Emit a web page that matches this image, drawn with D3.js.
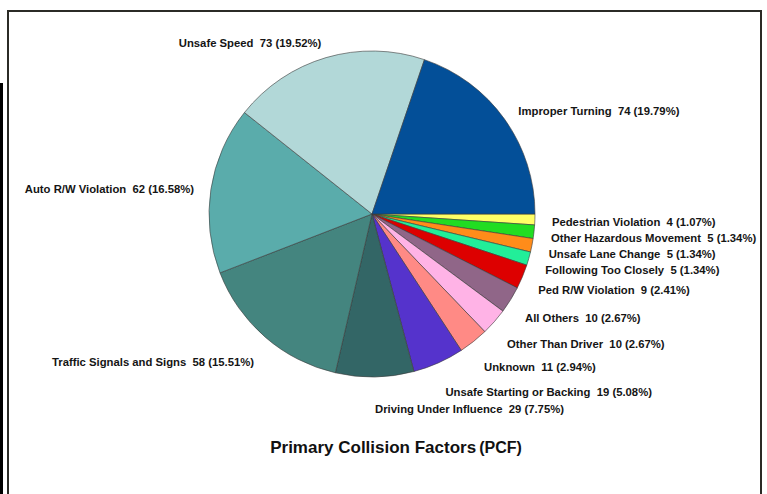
<!DOCTYPE html>
<html>
<head>
<meta charset="utf-8">
<script src="https://cdn.jsdelivr.net/npm/d3@7"></script>
<style>
  html, body { margin: 0; padding: 0; background: #fff; }
  svg { display: block; }
</style>
</head>
<body>
<svg id="chart" width="767" height="494"></svg>
<script>
// Data, clockwise from 3 o'clock
const categories = [
  "Pedestrian Violation",
  "Other Hazardous Movement",
  "Unsafe Lane Change",
  "Following Too Closely",
  "Ped R/W Violation",
  "All Others",
  "Other Than Driver",
  "Unknown",
  "Unsafe Starting or Backing",
  "Driving Under Influence",
  "Traffic Signals and Signs",
  "Auto R/W Violation",
  "Unsafe Speed",
  "Improper Turning"
];
const counts = [4, 5, 5, 5, 9, 10, 10, 11, 19, 29, 58, 62, 73, 74];
const percentLabels = ["1.07%", "1.34%", "1.34%", "1.34%", "2.41%", "2.67%", "2.67%", "2.94%", "5.08%", "7.75%", "15.51%", "16.58%", "19.52%", "19.79%"];
const colors = [
  "#ffff66", "#22dd22", "#ff8c1a", "#22ee99", "#dd0000", "#906688", "#ffb3e6",
  "#ff8a85", "#5533cc", "#336666", "#44857f", "#5aacab", "#b2d8d8", "#034f98"
];
const titleMain = "Primary Collision Factors";
const titleSub = "(PCF)";

const svg = d3.select("#chart");
const W = 767, H = 494;

// left black strip and frame
svg.append("rect").attr("x", 0).attr("y", 83).attr("width", 3).attr("height", H - 83).attr("fill", "#000");
svg.append("rect").attr("x", 8).attr("y", 11).attr("width", 753).attr("height", H + 10)
  .attr("fill", "none").attr("stroke", "#2b2b26").attr("stroke-width", 2);

const cx = 372, cy = 214, r = 163;
const g = svg.append("g").attr("transform", `translate(${cx},${cy})`);

const data = categories.map((c, i) => ({ name: c, value: counts[i], pct: percentLabels[i], color: colors[i] }));
const pie = d3.pie().value(d => d.value).sort(null)
  .startAngle(Math.PI / 2).endAngle(Math.PI / 2 + 2 * Math.PI);
const arcs = pie(data);
const arc = d3.arc().innerRadius(0).outerRadius(r);

g.selectAll("path.slice").data(arcs).enter().append("path")
  .attr("class", "slice")
  .attr("d", arc)
  .attr("fill", d => d.data.color)
  .attr("stroke", "#3a3a3a")
  .attr("stroke-width", 0.6)
  .attr("stroke-linejoin", "round");

// labels
const Rx = 180;
const labels = arcs.map(d => {
  const a = (d.startAngle + d.endAngle) / 2; // clockwise from 12 o'clock
  const s = Math.sin(a), c = -Math.cos(a);
  const x = Rx * s;
  const y = 2 + (c > 0 ? 193 : 180) * c;
  return { d, x, y, anchor: s >= 0 ? "start" : "end" };
});
// simple collision resolution on right side (downwards)
const right = labels.filter(l => l.anchor === "start").sort((a, b) => a.y - b.y);
for (let i = 1; i < right.length; i++) {
  if (right[i].y - right[i - 1].y < 16) right[i].y = right[i - 1].y + 16;
}

g.selectAll("text.lbl").data(labels).enter().append("text")
  .attr("class", "lbl")
  .attr("x", l => l.x)
  .attr("y", l => l.y)
  .attr("dy", "0.35em")
  .attr("text-anchor", l => l.anchor)
  .attr("font-family", "Liberation Sans, Arial, sans-serif")
  .attr("font-weight", "bold")
  .attr("font-size", "11.3px")
  .attr("fill", "#151515")
  .style("white-space", "pre")
  .text(l => `${l.d.data.name}  ${l.d.data.value} (${l.d.data.pct})`);

// title
const t = svg.append("text")
  .attr("x", 396).attr("y", 453)
  .attr("text-anchor", "middle")
  .attr("font-family", "Liberation Sans, Arial, sans-serif")
  .attr("font-weight", "bold")
  .attr("fill", "#111");
t.append("tspan").attr("font-size", "17px").text(titleMain);
t.append("tspan").attr("font-size", "16px").attr("dx", 3).text(titleSub);
</script>
</body>
</html>
